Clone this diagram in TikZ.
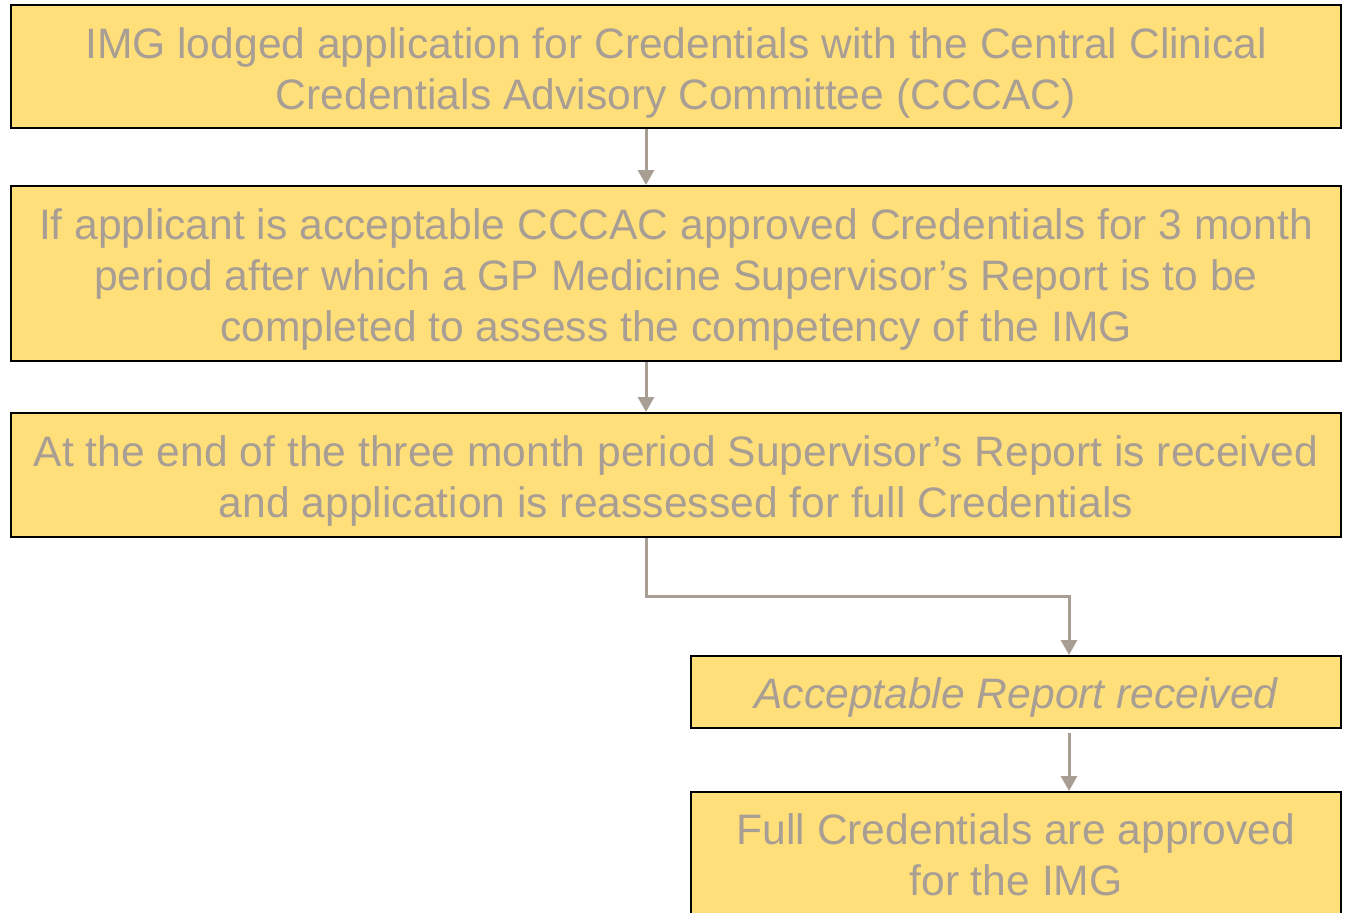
\documentclass[tikz,border=0pt]{standalone}
\usepackage{fontspec}
\setmainfont{Liberation Sans}
\usetikzlibrary{arrows.meta, positioning}
\definecolor{boxgold}{RGB}{255,223,122}
\definecolor{textgrey}{RGB}{168,158,148}
\newcommand{\lift}[1][1.01em]{\rule{0pt}{#1}}

\tikzset{
  stepbox/.style={draw=black, line width=1pt, fill=boxgold, text=textgrey,
    align=center, inner sep=0pt, minimum width=665pt,
    font=\fontsize{21.3}{25.5}\selectfont},
  flow/.style={->, draw=textgrey, line width=1.5pt},
}

\begin{document}
\begin{tikzpicture}[x=0.5pt, y=-0.5pt, >={Triangle[length=7.5pt, width=8pt]}]
    \useasboundingbox (0,0) rectangle (1345,912);

    % Steps
    \node[stepbox, minimum height=61.5pt] (lodge) at (676,66.5)
        {\lift IMG lodged application for Credentials with the Central Clinical\\
         Credentials Advisory Committee (CCCAC)};
    \node[stepbox, minimum height=87.5pt] (approve) at (676,273.5)
        {\lift If applicant is acceptable CCCAC approved Credentials for 3 month\\
         period after which a GP Medicine Supervisor’s Report is to be\\
         completed to assess the competency of the IMG};
    \node[stepbox, minimum height=62pt] (reassess) at (676,475)
        {\lift At the end of the three month period Supervisor’s Report is received\\
         and application is reassessed for full Credentials};

    % Outcome
    \node[stepbox, minimum width=325pt, minimum height=36pt,
          font=\fontsize{21.3}{25.5}\selectfont\itshape] (report) at (1016,692)
        {\lift[0.97em]Acceptable Report received};
    \node[stepbox, minimum width=325pt, minimum height=63pt] (full) at (1016,855)
        {Full Credentials are approved\\for the IMG};

    % Connectors
    \draw[flow] ([xshift=-15pt]lodge.south) -- ([xshift=-15pt]approve.north);
    \draw[flow] ([xshift=-15pt]approve.south) -- ([xshift=-15pt]reassess.north);
    \draw[flow] ([xshift=-15pt]reassess.south) -- ++(0,58) -| ([xshift=26.5pt]report.north);
    \draw[flow] ([xshift=26.5pt,yshift=-2pt]report.south) -- ([xshift=26.5pt]full.north);
\end{tikzpicture}
\end{document}
